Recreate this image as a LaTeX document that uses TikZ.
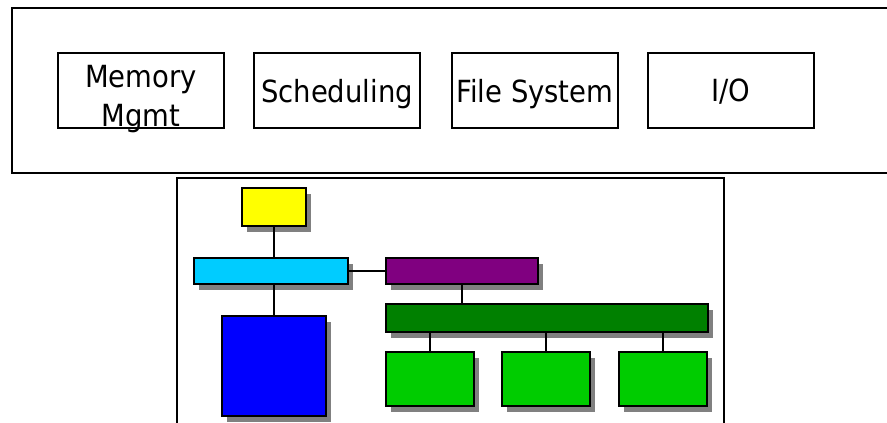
\documentclass[tikz,border=0pt]{standalone}
\usepackage{fontspec}
\setmainfont{DejaVu Sans Condensed}
\usetikzlibrary{shadows, positioning, calc}
\definecolor{boxyellow}{HTML}{FFFF00}
\definecolor{boxcyan}{HTML}{00CCFF}
\definecolor{boxpurple}{HTML}{800080}
\definecolor{boxblue}{HTML}{0000FF}
\definecolor{boxdkgreen}{HTML}{008000}
\definecolor{boxgreen}{HTML}{00CC00}
\tikzset{
    modbox/.style={draw, line width=2pt, rectangle, minimum width=166pt, minimum height=75pt,
        inner sep=0pt, align=center, text depth=0pt, font=\fontsize{30.5}{39.5}\selectfont},
    blk/.style args={#1 #2 #3}{draw, line width=1.7pt, rectangle, fill=#1, inner sep=0pt,
        minimum width=#2, minimum height=#3,
        drop shadow={shadow xshift=5pt, shadow yshift=-6pt, fill=black!50, opacity=1}},
    link/.style={line width=1.7pt}
}

\begin{document}
\begin{tikzpicture}[x=1pt, y=-1pt]
    \useasboundingbox (0,0) rectangle (887,423);
    % kernel services
    \draw[line width=2pt] (900,8) -- (12,8) -- (12,173) -- (900,173);
    \node[modbox] (mem) at (141,90.5) {\rule{0pt}{33pt}Memory\\Mgmt};
    \node[modbox] (sched) at (337,90.5) {Scheduling};
    \node[modbox] (fs) at (535,90.5) {File System};
    \node[modbox] (io) at (731,90.5) {I/O};
    % structure
    \draw[line width=2pt] (177,430) -- (177,178) -- (724,178) -- (724,430);
    \node[blk={boxyellow 64pt 38pt}] (top) at (274,207) {};
    \node[blk={boxcyan 154pt 26pt}] (left) at (271,271) {};
    \node[blk={boxpurple 152pt 26pt}] (right) at (462,271) {};
    \node[blk={boxblue 104pt 100pt}] (low) at (274,366) {};
    \node[blk={boxdkgreen 322pt 28pt}] (bus) at (547,318) {};
    \node[blk={boxgreen 88pt 54pt}] (g1) at (430,379) {};
    \node[blk={boxgreen 88pt 54pt}] (g2) at (546,379) {};
    \node[blk={boxgreen 88pt 54pt}] (g3) at (663,379) {};
    \draw[link] (top.south) -- (top.south |- left.north);
    \draw[link] (low.north) -- (low.north |- left.south);
    \draw[link] (left.east) -- (right.west);
    \draw[link] (right.south) -- (right.south |- bus.north);
    \foreach \g in {g1, g2, g3}
        \draw[link] (\g.north) -- (\g.north |- bus.south);
\end{tikzpicture}
\end{document}
